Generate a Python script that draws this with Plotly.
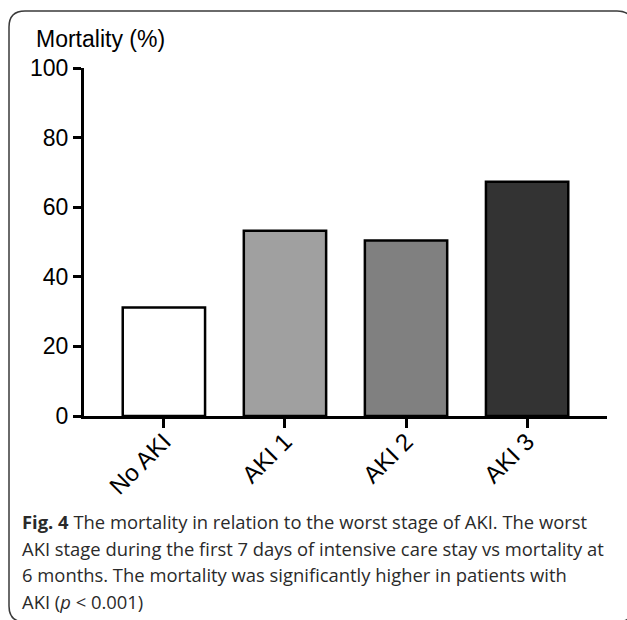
import plotly.graph_objects as go

categories = ["No AKI", "AKI 1", "AKI 2", "AKI 3"]
mortality = [31.2, 53.2, 50.4, 67.3]
bar_colors = ["#ffffff", "#a0a0a0", "#808080", "#333333"]
y_ticks = [0, 20, 40, 60, 80, 100]
caption_lines = [
    "<b>Fig. 4</b> The mortality in relation to the worst stage of AKI. The worst",
    "AKI stage during the first 7 days of intensive care stay vs mortality at",
    "6 months. The mortality was significantly higher in patients with",
    "AKI (<i>p</i> &lt; 0.001)",
]

W, H = 627, 620
L, R, T, B = 84, 20, 68, 204
PW, PH = W - L - R, H - T - B


def px(x):
    return (x - L) / PW


def py(y):
    return (H - B - y) / PH


fig = go.Figure(
    go.Bar(
        x=categories,
        y=mortality,
        width=0.68,
        marker=dict(color=bar_colors, line=dict(color="#000000", width=2.5)),
    )
)

fig.update_layout(
    width=W,
    height=H,
    margin=dict(l=L, r=R, t=T, b=B),
    paper_bgcolor="white",
    plot_bgcolor="white",
    showlegend=False,
    xaxis=dict(
        range=[-0.66, 3.66],
        showline=True,
        linecolor="#000000",
        linewidth=3,
        ticks="outside",
        ticklen=9,
        tickwidth=3,
        tickcolor="#000000",
        tickangle=-45,
        ticklabelstandoff=-10,
        tickfont=dict(family="Arial, Liberation Sans", size=24, color="#000000"),
        showgrid=False,
        zeroline=False,
    ),
    yaxis=dict(
        range=[0, 100],
        tickvals=y_ticks,
        showline=True,
        linecolor="#000000",
        linewidth=3,
        ticks="outside",
        ticklen=8,
        tickwidth=3,
        tickcolor="#000000",
        tickfont=dict(family="Arial, Liberation Sans", size=23, color="#000000"),
        showgrid=False,
        zeroline=False,
    ),
)

annotations = [
    dict(
        text="Mortality (%)",
        x=px(34), y=py(39), xref="paper", yref="paper",
        xanchor="left", yanchor="middle", showarrow=False,
        font=dict(family="Arial, Liberation Sans", size=23, color="#000000"),
    )
]
caption_y = [521, 548, 574, 601]
for line, yy in zip(caption_lines, caption_y):
    annotations.append(
        dict(
            text=line,
            x=px(20), y=py(yy), xref="paper", yref="paper",
            xanchor="left", yanchor="middle", showarrow=False,
            font=dict(family="Open Sans", size=18.4, color="#2a2a2a"),
        )
    )
fig.update_layout(annotations=annotations)

# rounded frame
x0, y0, x1, y1, r = 9, 11, 633, 622, 16
path = (
    f"M {px(x0 + r)},{py(y0)} L {px(x1 - r)},{py(y0)} "
    f"Q {px(x1)},{py(y0)} {px(x1)},{py(y0 + r)} "
    f"L {px(x1)},{py(y1 - r)} Q {px(x1)},{py(y1)} {px(x1 - r)},{py(y1)} "
    f"L {px(x0 + r)},{py(y1)} Q {px(x0)},{py(y1)} {px(x0)},{py(y1 - r)} "
    f"L {px(x0)},{py(y0 + r)} Q {px(x0)},{py(y0)} {px(x0 + r)},{py(y0)} Z"
)
fig.add_shape(type="path", path=path, xref="paper", yref="paper",
              line=dict(color="#3a3a3a", width=1.5), layer="below")

fig.write_html(
    "out.html",
    config={"displayModeBar": False},
    post_script="document.body.style.margin='0';document.body.style.overflow='hidden';",
)
